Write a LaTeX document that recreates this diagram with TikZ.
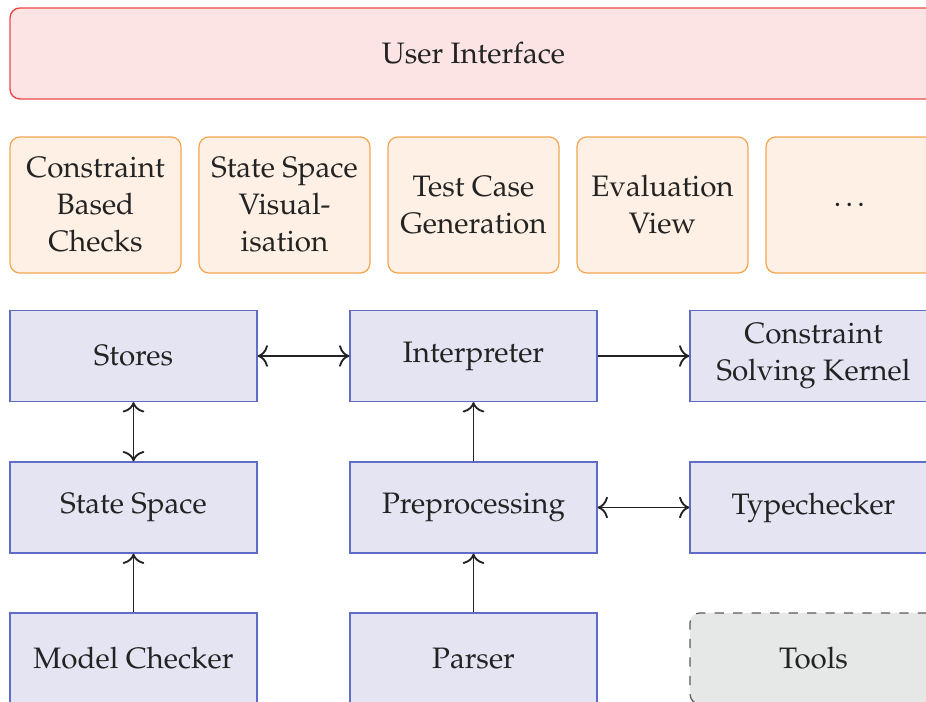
\documentclass[tikz,border=0pt]{standalone}
\usepackage[T1]{fontenc}
\usepackage{mathpazo}
\usetikzlibrary{arrows.meta}
\definecolor{uiline}{RGB}{235,72,72}
\definecolor{uifill}{RGB}{252,228,229}
\definecolor{toolline}{RGB}{245,165,80}
\definecolor{toolfill}{RGB}{254,240,228}
\definecolor{coreline}{RGB}{95,108,200}
\definecolor{corefill}{RGB}{228,228,243}
\definecolor{extline}{RGB}{90,90,90}
\definecolor{extfill}{RGB}{230,231,231}
\definecolor{ink}{RGB}{35,35,35}
\begin{document}
\begin{tikzpicture}[
  x=0.3247pt, y=-0.3247pt,
  font=\fontsize{9.6}{12}\selectfont,
  every node/.style={text=ink, align=center, inner sep=0pt},
  uibox/.style={draw=uiline, fill=uifill, line width=0.45pt, rounded corners=3.2pt,
    minimum width=301pt, minimum height=29.55pt},
  viewbox/.style={draw=toolline, fill=toolfill, line width=0.4pt, rounded corners=3.2pt,
    minimum width=55.5pt, minimum height=44.2pt},
  corebox/.style={draw=coreline, fill=corefill, line width=0.4pt,
    minimum width=80.2pt, minimum height=29.55pt},
  extbox/.style={draw=extline, fill=extfill, line width=0.4pt, dashed, rounded corners=3.2pt,
    minimum width=80.2pt, minimum height=29.55pt},
  conn/.style={draw=ink, line width=0.6pt},
  >={To[scale=1.15]}
]
\useasboundingbox (0,0) rectangle (926,702);
\clip (0,0) rectangle (926,702);

% top layer
\node[uibox] (ui) at (473.5,53.5) {User Interface};

% analysis views
\node[viewbox] (cbc)  at (95.5,205)  {Constraint\\Based\\Checks};
\node[viewbox] (ssv)  at (284.5,205) {State Space\\Visual-\\isation};
\node[viewbox] (tcg)  at (473.5,205) {Test Case\\Generation};
\node[viewbox] (ev)   at (662.5,205) {Evaluation\\View};
\node[viewbox] (more) at (851.5,205) {\dots};

% core components
\node[corebox] (stores)  at (133.5,356)   {Stores};
\node[corebox] (interp)  at (473.5,356)   {Interpreter};
\node[corebox] (csk)     at (813.5,356)   {Constraint\\Solving Kernel};
\node[corebox] (statesp) at (133.5,507.5) {State Space};
\node[corebox] (prep)    at (473.5,507.5) {Preprocessing};
\node[corebox] (typec)   at (813.5,507.5) {Typechecker};
\node[corebox] (mc)      at (133.5,658.5) {Model Checker};
\node[corebox] (parser)  at (473.5,658.5) {Parser};
\node[extbox]  (tools)   at (813.5,658.5) {Tools};

% connections
\draw[conn,<->] (stores) -- (interp);
\draw[conn,->]  (interp) -- (csk);
\draw[conn,<->] (stores) -- (statesp);
\draw[conn,->]  (prep) -- (interp);
\draw[conn,<->] (prep) -- (typec);
\draw[conn,->]  (mc) -- (statesp);
\draw[conn,->]  (parser) -- (prep);
\end{tikzpicture}
\end{document}
